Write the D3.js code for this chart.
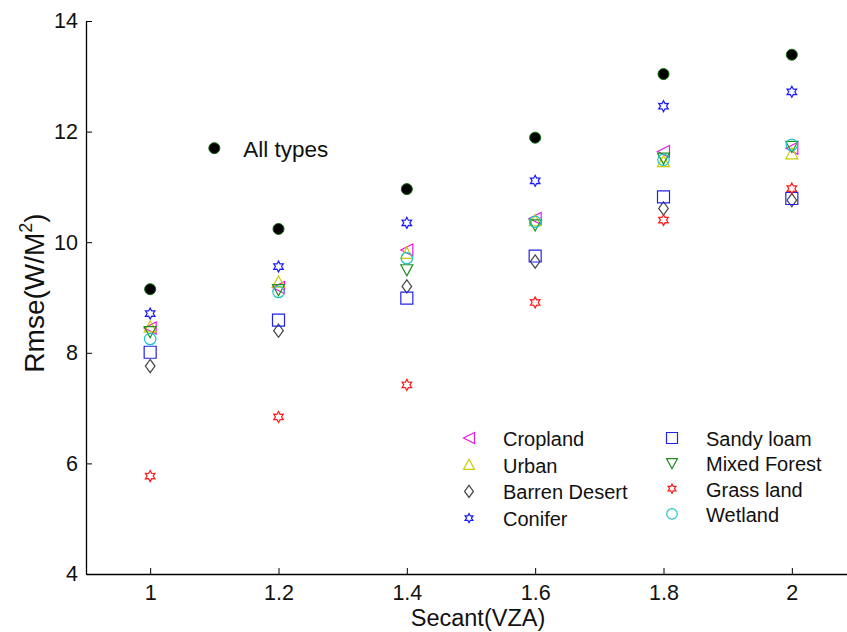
<!DOCTYPE html>
<html>
<head>
<meta charset="utf-8">
<script src="https://d3js.org/d3.v7.min.js"></script>
<style>
  body { margin: 0; background: #fff; }
  svg { display: block; font-family: "Liberation Sans", Arial, sans-serif; }
</style>
</head>
<body>
<svg id="chart" width="847" height="632"></svg>
<script>
// Data
const secant = [1, 1.2, 1.4, 1.6, 1.8, 2];
const allTypes = [9.15, 10.24, 10.96, 11.89, 13.04, 13.39];
const cropland = [8.45, 9.18, 9.86, 10.43, 11.64, 11.70];
const urban = [8.47, 9.28, 9.80, 10.39, 11.46, 11.60];
const barrenDesert = [7.76, 8.40, 9.20, 9.65, 10.61, 10.76];
const conifer = [8.71, 9.56, 10.35, 11.11, 12.46, 12.72];
const sandyLoam = [8.01, 8.59, 8.99, 9.75, 10.82, 10.79];
const mixedForest = [8.38, 9.14, 9.50, 10.31, 11.52, 11.73];
const grassLand = [5.77, 6.84, 7.42, 8.91, 10.40, 10.97];
const wetland = [8.25, 9.10, 9.71, 10.37, 11.49, 11.76];
const xTicks = [1, 1.2, 1.4, 1.6, 1.8, 2];
const yTicks = [4, 6, 8, 10, 12, 14];

// series in draw order (legend order: column 1 then column 2)
const series = [
  { name: "Cropland", values: cropland, shape: "triLeft", color: "#e619e6" },
  { name: "Urban", values: urban, shape: "triUp", color: "#cccc00" },
  { name: "Barren Desert", values: barrenDesert, shape: "diamond", color: "#444444" },
  { name: "Conifer", values: conifer, shape: "hexagram", color: "#1a1aff" },
  { name: "Sandy loam", values: sandyLoam, shape: "square", color: "#2222ee" },
  { name: "Mixed Forest", values: mixedForest, shape: "triDown", color: "#1f8f1f" },
  { name: "Grass land", values: grassLand, shape: "hexagram", color: "#ff1a1a" },
  { name: "Wetland", values: wetland, shape: "circle", color: "#1fc4c4" },
];

const svg = d3.select("#chart");

const x = d3.scaleLinear().domain([0.9, 2.1]).range([86, 856]);
const y = d3.scaleLinear().domain([4, 14]).range([574, 21]);

// marker outline paths centred at 0,0
function markerPath(shape, s) {
  const h = s / 2;
  switch (shape) {
    case "triLeft":
      return `M${h},${-h}L${-h},0L${h},${h}Z`;
    case "triUp":
      return `M0,${-h}L${h},${h * 0.85}L${-h},${h * 0.85}Z`;
    case "triDown":
      return `M0,${h}L${h},${-h * 0.85}L${-h},${-h * 0.85}Z`;
    case "diamond":
      return `M0,${-h * 1.1}L${h * 0.8},0L0,${h * 1.1}L${-h * 0.8},0Z`;
    case "square":
      return `M${-h},${-h}L${h},${-h}L${h},${h}L${-h},${h}Z`;
    case "circle": {
      const r = h * 0.95;
      return `M${r},0A${r},${r},0,1,1,${-r},0A${r},${r},0,1,1,${r},0Z`;
    }
    case "hexagram": {
      const ro = h, ri = h * 0.55;
      const pts = d3.range(12).map((i) => {
        const a = -Math.PI / 2 + (i * Math.PI) / 6;
        const r = i % 2 === 0 ? ro : ri;
        return [r * Math.cos(a), r * Math.sin(a)];
      });
      return "M" + pts.map((p) => p.join(",")).join("L") + "Z";
    }
  }
}

// axes
const xAxis = d3.axisBottom(x).tickValues(xTicks).tickFormat(d3.format("")).tickSizeInner(-6).tickSizeOuter(0).tickPadding(11);
const yAxis = d3.axisLeft(y).tickValues(yTicks).tickSizeInner(-6).tickSizeOuter(0).tickPadding(8);

const gx = svg.append("g").attr("transform", `translate(0,${y(4)})`).call(xAxis);
const gy = svg.append("g").attr("transform", `translate(${x(0.9)},0)`).call(yAxis);
[gx, gy].forEach((g) => {
  g.select(".domain").attr("stroke", "#000").attr("stroke-width", 1.3);
  g.selectAll(".tick line").attr("stroke", "#000").attr("stroke-width", 1);
  g.selectAll(".tick text").attr("font-size", 21.5).attr("fill", "#111").attr("font-family", "Liberation Sans, Arial, sans-serif");
});
gx.selectAll(".tick text").attr("dy", "0.71em");

// axis titles
svg.append("text")
  .attr("x", 478).attr("y", 626)
  .attr("text-anchor", "middle").attr("font-size", 23.5).attr("fill", "#111")
  .text("Secant(VZA)");

const yt = svg.append("text")
  .attr("transform", "translate(44,293) rotate(-90)")
  .attr("text-anchor", "middle").attr("font-size", 28).attr("fill", "#111");
yt.append("tspan").text("Rmse(W/M");
yt.append("tspan").attr("font-size", 18).attr("dy", -12).text("2");
yt.append("tspan").attr("dy", 12).text(")");

// data markers
series.forEach((s) => {
  svg.append("g")
    .selectAll("path")
    .data(s.values)
    .join("path")
    .attr("transform", (d, i) => `translate(${x(secant[i])},${y(d)})`)
    .attr("d", markerPath(s.shape, s.shape === "hexagram" ? 11 : 12))
    .attr("fill", "none")
    .attr("stroke", s.color)
    .attr("stroke-width", 1.2);
});

// all types: filled black circles with green edge
svg.append("g")
  .selectAll("circle")
  .data(allTypes)
  .join("circle")
  .attr("cx", (d, i) => x(secant[i]))
  .attr("cy", (d) => y(d))
  .attr("r", 5.5)
  .attr("fill", "#000")
  .attr("stroke", "#0a6a0a")
  .attr("stroke-width", 1);

// "All types" annotation
svg.append("circle")
  .attr("cx", x(1.1)).attr("cy", y(11.7)).attr("r", 5.5)
  .attr("fill", "#000").attr("stroke", "#0a6a0a").attr("stroke-width", 1);
svg.append("text")
  .attr("x", x(1.1) + 29).attr("y", y(11.7) + 9)
  .attr("font-size", 22.5).attr("fill", "#111")
  .text("All types");

// legend, two columns of four
const legend = svg.append("g");
series.forEach((s, i) => {
  const col = Math.floor(i / 4), row = i % 4;
  const lx = col === 0 ? 469 : 672;
  const ly = 438 + row * (col === 0 ? 26.7 : 25.3);
  legend.append("path")
    .attr("transform", `translate(${lx},${ly})`)
    .attr("d", markerPath(s.shape, s.shape === "hexagram" ? 9 : 11))
    .attr("fill", "none")
    .attr("stroke", s.color)
    .attr("stroke-width", 1.2);
  legend.append("text")
    .attr("x", lx + 34).attr("y", ly + 8)
    .attr("font-size", 20).attr("fill", "#111")
    .text(s.name);
});
</script>
</body>
</html>
